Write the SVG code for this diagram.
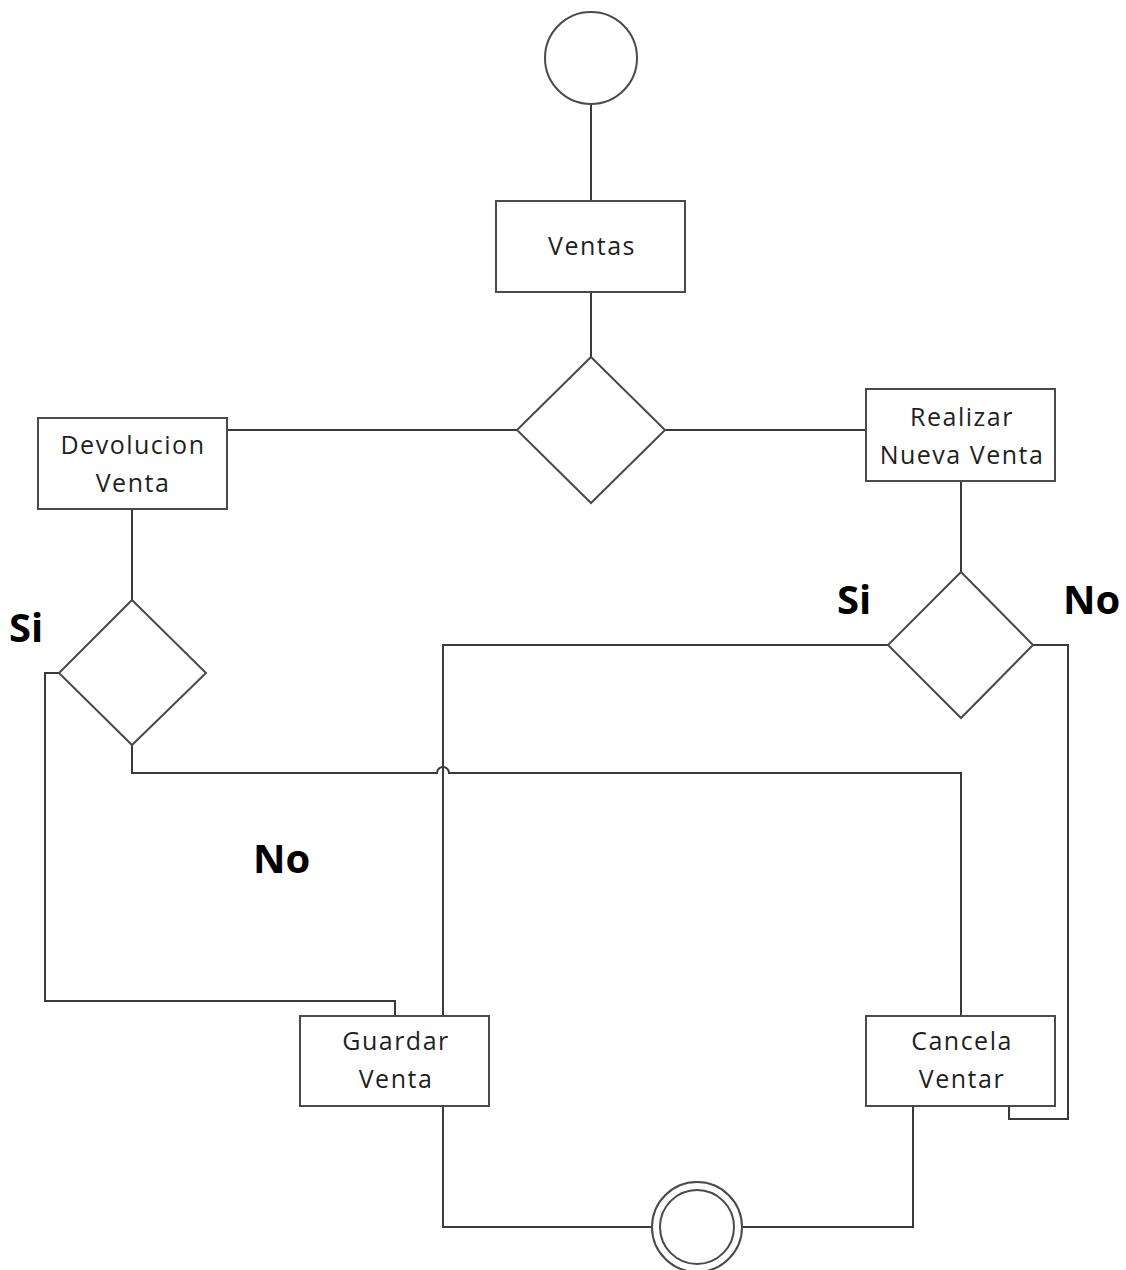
<svg xmlns="http://www.w3.org/2000/svg" width="1126" height="1270" viewBox="0 0 1126 1270">
  <style>
    .shape { fill: #ffffff; stroke: #4a4a4a; stroke-width: 2; }
    .wire { fill: none; stroke: #3a3a3a; stroke-width: 2; stroke-linejoin: miter; }
    .lbl { font-family: "Open Sans", "Liberation Sans", sans-serif; font-size: 25px; letter-spacing: 1.5px; fill: #1f1f1f; text-anchor: middle; }
    .tag { font-family: "Open Sans", "Liberation Sans", sans-serif; font-size: 40px; font-weight: bold; fill: #000000; }
  </style>
  <rect width="1126" height="1270" fill="#ffffff"/>

  <!-- connectors -->
  <g id="connectors">
    <path class="wire" d="M591,104 V201"/>
    <path class="wire" d="M591,292 V357"/>
    <path class="wire" d="M517,430 H227"/>
    <path class="wire" d="M665,430 H866"/>
    <path class="wire" d="M132,509 V600"/>
    <path class="wire" d="M961,481 V572"/>
    <!-- Devolucion decision: Si -->
    <path class="wire" d="M59,673 H45 V1001 H395 V1016"/>
    <!-- Devolucion decision: No (hops over the vertical at x=443) -->
    <path class="wire" d="M132,745 V773 H437 A6,6 0 0 1 449,773 H961 V1016"/>
    <!-- Nueva venta decision: Si -->
    <path class="wire" d="M888,645 H443 V1016"/>
    <!-- Nueva venta decision: No -->
    <path class="wire" d="M1033,645 H1068 V1119 H1009 V1106"/>
    <!-- to final state -->
    <path class="wire" d="M443,1106 V1227 H652"/>
    <path class="wire" d="M913,1106 V1227 H742"/>
  </g>

  <g id="start">
    <circle class="shape" cx="591" cy="58" r="46"/>
  </g>

  <g id="ventas">
    <rect class="shape" x="496" y="201" width="189" height="91"/>
    <text class="lbl" x="592" y="255">Ventas</text>
  </g>

  <g id="decision-main">
    <polygon class="shape" points="591,357 665,430 591,503 517,430"/>
  </g>

  <g id="devolucion">
    <rect class="shape" x="38" y="418" width="189" height="91"/>
    <text class="lbl" x="133" y="454">Devolucion</text>
    <text class="lbl" x="133" y="492">Venta</text>
  </g>

  <g id="realizar">
    <rect class="shape" x="866" y="389" width="189" height="92"/>
    <text class="lbl" x="962" y="426">Realizar</text>
    <text class="lbl" x="962" y="464">Nueva Venta</text>
  </g>

  <g id="decision-devolucion">
    <polygon class="shape" points="132,600 206,673 132,745 59,673"/>
  </g>

  <g id="decision-nueva">
    <polygon class="shape" points="961,572 1033,645 961,718 888,645"/>
  </g>

  <g id="guardar">
    <rect class="shape" x="300" y="1016" width="189" height="90"/>
    <text class="lbl" x="396" y="1050">Guardar</text>
    <text class="lbl" x="396" y="1088">Venta</text>
  </g>

  <g id="cancela">
    <rect class="shape" x="866" y="1016" width="189" height="90"/>
    <text class="lbl" x="962" y="1050">Cancela</text>
    <text class="lbl" x="962" y="1088">Ventar</text>
  </g>

  <g id="end">
    <circle class="shape" cx="697" cy="1227" r="45"/>
    <circle class="shape" cx="697" cy="1227" r="37"/>
  </g>

  <g id="labels">
    <text class="tag" x="9" y="642">Si</text>
    <text class="tag" x="253" y="873">No</text>
    <text class="tag" x="837" y="614">Si</text>
    <text class="tag" x="1063" y="614">No</text>
  </g>
</svg>
